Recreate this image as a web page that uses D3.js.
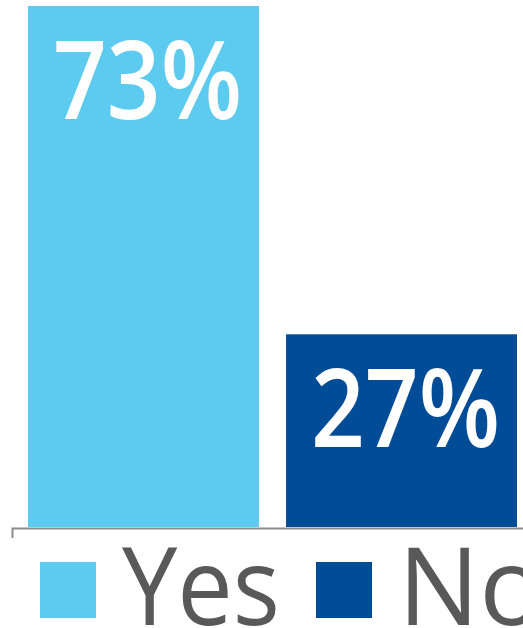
<!DOCTYPE html>
<html><head><meta charset="utf-8">
<script src="https://cdn.jsdelivr.net/npm/d3@7"></script>
<style>html,body{margin:0;padding:0;background:#fff;}svg{display:block;}</style>
</head><body>
<script>
const categories = ["Yes", "No"];
const values = [73, 27];
const labels = ["73%", "27%"];
const colors = ["#5DCBEF", "#004C97"];

const W = 523, H = 628;
const svg = d3.select("body").append("svg").attr("width", W).attr("height", H);

const x = d3.scaleBand().domain(categories).range([12, 533]).paddingInner(0.105).paddingOuter(0.062);
const y = d3.scaleLinear().domain([0, 73]).range([527, 6]);

svg.selectAll("rect.bar").data(categories).join("rect")
  .attr("class", "bar")
  .attr("x", d => x(d)).attr("width", x.bandwidth())
  .attr("y", (d, i) => y(values[i])).attr("height", (d, i) => y(0) - y(values[i]))
  .attr("fill", (d, i) => colors[i]);

const axis = svg.append("g").attr("transform", "translate(0,528)")
  .call(d3.axisBottom(x).tickValues([]).tickSizeOuter(10));
axis.select(".domain").attr("stroke", "#8C8C8C").attr("stroke-width", 2);

svg.selectAll("text.val").data(categories).join("text")
  .attr("class", "val")
  .attr("x", d => x(d) + x.bandwidth() / 2 + 4)
  .attr("y", (d, i) => y(values[i]) + 113)
  .attr("text-anchor", "middle")
  .attr("fill", "#fff")
  .attr("font-family", "'Open Sans', sans-serif")
  .attr("font-weight", 600)
  .attr("font-size", 108)
  .attr("textLength", 189).attr("lengthAdjust", "spacingAndGlyphs")
  .text((d, i) => labels[i]);

const legendX = [40, 316];
const legendLen = [158, null];
const lg = svg.selectAll("g.leg").data(categories).join("g")
  .attr("class", "leg")
  .attr("transform", (d, i) => `translate(${legendX[i]},562)`);
lg.append("rect").attr("width", 56).attr("height", 56).attr("fill", (d, i) => colors[i]);
lg.append("text").attr("x", 82).attr("y", 63)
  .attr("fill", "#595959")
  .attr("font-family", "'Open Sans', sans-serif")
  .attr("font-size", 108)
  .attr("textLength", (d, i) => legendLen[i])
  .attr("lengthAdjust", "spacingAndGlyphs")
  .text(d => d);
</script>
</body></html>
